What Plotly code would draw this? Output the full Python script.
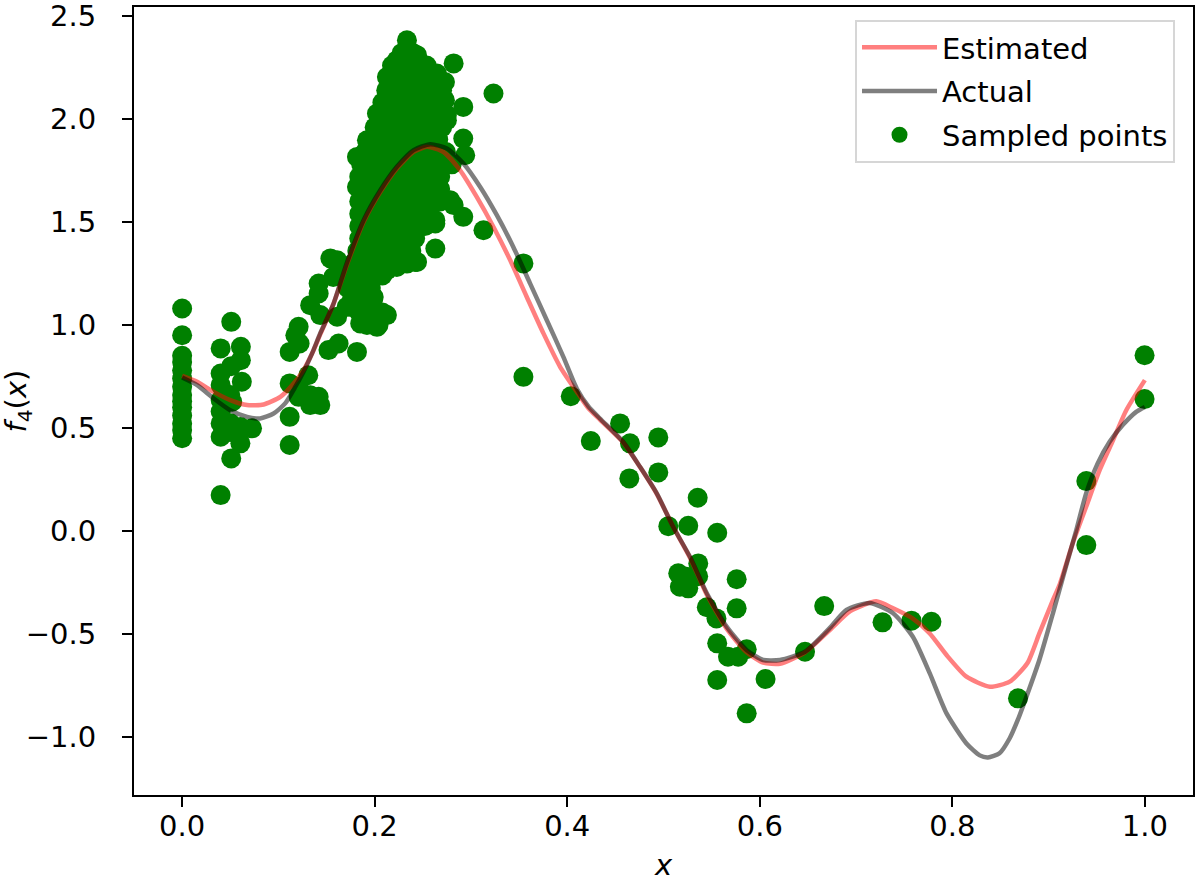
import plotly.graph_objects as go

# ---------------- data ----------------
# Actual function curve f4(x)
actual_x = [0.0, 0.0156, 0.0328, 0.050, 0.0675, 0.081, 0.095, 0.107, 0.1176, 0.126,
            0.135, 0.1435, 0.157, 0.171, 0.1885, 0.2058, 0.223, 0.2404, 0.2577, 0.275,
            0.2922, 0.3096, 0.3269, 0.344, 0.3615, 0.3788, 0.396, 0.41, 0.422, 0.434, 0.458,
            0.4756, 0.493, 0.51, 0.5275, 0.545, 0.5656, 0.5864, 0.6036, 0.621, 0.647,
            0.673, 0.690, 0.714, 0.7385, 0.759, 0.7766, 0.794, 0.8147, 0.8285, 0.837,
            0.849, 0.8596, 0.868, 0.877, 0.8904, 0.9045, 0.918, 0.9288, 0.939, 0.951,
            0.9634, 0.977, 0.991, 1.0]
actual_y = [0.745, 0.708, 0.643, 0.586, 0.554, 0.546, 0.570, 0.619, 0.700, 0.772,
            0.862, 0.960, 1.100, 1.300, 1.509, 1.654, 1.768, 1.849, 1.878, 1.857,
            1.784, 1.670, 1.533, 1.379, 1.201, 1.023, 0.845, 0.690, 0.605, 0.546, 0.433,
            0.311, 0.182, 0.020, -0.126, -0.303, -0.465, -0.579, -0.627, -0.627, -0.587,
            -0.470, -0.384, -0.350, -0.400, -0.514, -0.692, -0.886, -1.032, -1.090, -1.100,
            -1.080, -1.007, -0.918, -0.805, -0.627, -0.400, -0.174, 0.004, 0.182, 0.328,
            0.433, 0.514, 0.578, 0.602]

# Estimated curve
est_x = [0.0, 0.0156, 0.0328, 0.050, 0.0675, 0.0847, 0.102, 0.1158, 0.126, 0.1366,
         0.1435, 0.157, 0.171, 0.1885, 0.2058, 0.223, 0.2404, 0.2543, 0.2715, 0.2888,
         0.306, 0.3234, 0.3407, 0.358, 0.3753, 0.3926, 0.41, 0.422, 0.434, 0.458, 0.4756,
         0.493, 0.51, 0.5275, 0.545, 0.5656, 0.5864, 0.6036, 0.621, 0.647, 0.673,
         0.694, 0.721, 0.7385, 0.759, 0.7766, 0.794, 0.8147, 0.839, 0.8596, 0.8779,
         0.8904, 0.9045, 0.9115, 0.925, 0.939, 0.953, 0.967, 0.9807, 1.0]
est_y = [0.753, 0.724, 0.675, 0.635, 0.611, 0.614, 0.651, 0.716, 0.781, 0.878,
         0.955, 1.100, 1.290, 1.500, 1.645, 1.760, 1.840, 1.865, 1.840, 1.751,
         1.622, 1.476, 1.315, 1.136, 0.959, 0.797, 0.675, 0.595, 0.540, 0.430, 0.310,
         0.180, 0.020, -0.130, -0.310, -0.475, -0.590, -0.640, -0.645, -0.590, -0.480,
         -0.390, -0.342, -0.376, -0.426, -0.498, -0.603, -0.708, -0.757, -0.732, -0.643,
         -0.498, -0.336, -0.260, -0.061, 0.117, 0.295, 0.441, 0.586, 0.732]

# Sampled points (x, y)
samples = [
    # column at x = 0
    (0.0, 1.08), (0.0, 0.95), (0.0, 0.85), (0.0, 0.82), (0.0, 0.78), (0.0, 0.74),
    (0.0, 0.70), (0.0, 0.66), (0.0, 0.63), (0.0, 0.60), (0.0, 0.56), (0.0, 0.52),
    (0.0, 0.49), (0.0, 0.45),
    # x ~ 0.04 - 0.07
    (0.040, 0.886), (0.040, 0.764), (0.040, 0.708), (0.040, 0.635), (0.040, 0.58),
    (0.040, 0.522), (0.040, 0.457), (0.040, 0.174),
    (0.051, 1.015), (0.051, 0.80), (0.050, 0.66), (0.052, 0.627), (0.050, 0.523),
    (0.050, 0.48), (0.051, 0.352),
    (0.061, 0.894), (0.061, 0.829), (0.062, 0.724), (0.0605, 0.505), (0.0605, 0.425),
    (0.0726, 0.498),
    # x ~ 0.11 - 0.145
    (0.1117, 0.869), (0.121, 0.991), (0.1176, 0.95), (0.122, 0.91), (0.1117, 0.716),
    (0.1117, 0.554), (0.1117, 0.417), (0.131, 0.756), (0.121, 0.651), (0.133, 0.659),
    (0.1418, 0.651), (0.133, 0.611), (0.1435, 0.611), (0.121, 0.70),
    # x ~ 0.13 - 0.25, lower part of the cluster
    (0.133, 1.096), (0.1418, 1.153), (0.1435, 1.048), (0.152, 0.878), (0.1625, 0.910),
    (0.1816, 0.869), (0.2127, 1.048), (0.2024, 0.991), (0.185, 1.007), (0.171, 1.088),
    (0.161, 1.04), (0.154, 1.323), (0.1418, 1.201), (0.1677, 1.282), (0.157, 1.233),
    (0.161, 1.314), (0.199, 1.136), (0.188, 1.07), (0.1747, 1.088), (0.244, 1.306),
    (0.2335, 1.298), (0.223, 1.282), (0.2127, 1.266),
    # dense cluster
    (0.228, 2.32), (0.240, 2.32),
    (0.218, 2.26), (0.230, 2.26), (0.242, 2.26), (0.254, 2.26),
    (0.214, 2.20), (0.226, 2.20), (0.238, 2.20), (0.250, 2.20), (0.262, 2.20),
    (0.212, 2.14), (0.224, 2.14), (0.236, 2.14), (0.248, 2.14), (0.260, 2.14), (0.270, 2.14),
    (0.208, 2.08), (0.220, 2.08), (0.232, 2.08), (0.244, 2.08), (0.256, 2.08), (0.268, 2.08),
    (0.204, 2.02), (0.216, 2.02), (0.228, 2.02), (0.240, 2.02), (0.252, 2.02), (0.264, 2.02), (0.275, 2.02),
    (0.200, 1.96), (0.212, 1.96), (0.224, 1.96), (0.236, 1.96), (0.248, 1.96), (0.260, 1.96), (0.270, 1.96),
    (0.196, 1.90), (0.208, 1.90), (0.220, 1.90), (0.232, 1.90), (0.244, 1.90), (0.256, 1.90), (0.266, 1.90),
    (0.190, 1.84), (0.202, 1.84), (0.214, 1.84), (0.226, 1.84), (0.238, 1.84), (0.250, 1.84), (0.262, 1.84), (0.274, 1.84),
    (0.186, 1.78), (0.198, 1.78), (0.210, 1.78), (0.222, 1.78), (0.234, 1.78), (0.246, 1.78), (0.258, 1.78), (0.270, 1.78), (0.280, 1.78),
    (0.184, 1.72), (0.196, 1.72), (0.208, 1.72), (0.220, 1.72), (0.232, 1.72), (0.244, 1.72), (0.256, 1.72), (0.268, 1.72),
    (0.184, 1.66), (0.196, 1.66), (0.208, 1.66), (0.220, 1.66), (0.232, 1.66), (0.244, 1.66), (0.256, 1.66), (0.268, 1.66),
    (0.184, 1.60), (0.196, 1.60), (0.208, 1.60), (0.220, 1.60), (0.232, 1.60), (0.244, 1.60), (0.256, 1.60), (0.268, 1.60),
    (0.184, 1.54), (0.196, 1.54), (0.208, 1.54), (0.220, 1.54), (0.232, 1.54), (0.244, 1.54), (0.256, 1.54),
    (0.184, 1.48), (0.196, 1.48), (0.208, 1.48), (0.220, 1.48), (0.232, 1.48), (0.244, 1.48), (0.252, 1.48),
    (0.184, 1.42), (0.196, 1.42), (0.208, 1.42), (0.220, 1.42), (0.232, 1.42), (0.242, 1.42),
    (0.182, 1.36), (0.194, 1.36), (0.206, 1.36), (0.218, 1.36), (0.230, 1.36), (0.238, 1.36),
    (0.178, 1.30), (0.190, 1.30), (0.202, 1.30), (0.214, 1.30), (0.226, 1.30),
    (0.174, 1.24), (0.186, 1.24), (0.198, 1.24), (0.208, 1.24),
    (0.172, 1.18), (0.184, 1.18), (0.196, 1.18),
    (0.176, 1.12), (0.188, 1.12), (0.198, 1.12),
    (0.184, 1.06), (0.196, 1.06), (0.208, 1.06),
    (0.192, 1.00), (0.204, 1.00),
    # cluster outline / outliers
    (0.2335, 2.382), (0.244, 2.31), (0.223, 2.285), (0.2127, 2.204), (0.282, 2.27),
    (0.3234, 2.124), (0.292, 2.059), (0.273, 2.18), (0.2646, 2.221), (0.273, 2.091),
    (0.275, 1.994), (0.292, 1.905), (0.294, 1.824), (0.2024, 2.027), (0.192, 1.897),
    (0.1816, 1.816), (0.1816, 1.67), (0.2784, 1.606), (0.292, 1.525), (0.313, 1.460),
    (0.263, 1.509), (0.263, 1.371), (0.242, 1.306), (0.3545, 1.299), (0.282, 1.582),
    (0.263, 1.493),
    # middle section
    (0.3545, 0.748), (0.4037, 0.654), (0.4245, 0.436), (0.4549, 0.522), (0.4652, 0.425),
    (0.4946, 0.454), (0.4645, 0.255), (0.4946, 0.284), (0.5355, 0.161), (0.505, 0.023),
    (0.5257, 0.025), (0.5558, -0.009), (0.5361, -0.158), (0.5153, -0.206), (0.524, -0.223),
    (0.536, -0.22), (0.517, -0.271), (0.5257, -0.279), (0.576, -0.235), (0.545, -0.371),
    (0.555, -0.425), (0.576, -0.376), (0.5558, -0.546), (0.5864, -0.575), (0.567, -0.611),
    (0.5776, -0.611), (0.5558, -0.724), (0.606, -0.719), (0.5864, -0.886),
    # right section
    (0.647, -0.587), (0.6669, -0.365), (0.7275, -0.444), (0.7576, -0.436), (0.7783, -0.441),
    (0.8682, -0.813), (0.9392, 0.242), (0.9392, -0.069), (0.9997, 0.853), (0.9997, 0.640),
]
sample_x = [p[0] for p in samples]
sample_y = [p[1] for p in samples]

x_tick_vals = [0.0, 0.2, 0.4, 0.6, 0.8, 1.0]
x_tick_text = ["0.0", "0.2", "0.4", "0.6", "0.8", "1.0"]
y_tick_vals = [-1.0, -0.5, 0.0, 0.5, 1.0, 1.5, 2.0, 2.5]
y_tick_text = ["\u22121.0", "\u22120.5", "0.0", "0.5", "1.0", "1.5", "2.0", "2.5"]

# ---------------- figure ----------------
FONT = "DejaVu Sans"
FS = 29
W, H = 1196, 879
ML, MR, MT, MB = 133.5, 3, 7, 84
PW, PH = W - ML - MR, H - MT - MB

fig = go.Figure()
fig.add_trace(go.Scatter(
    x=sample_x, y=sample_y, mode="markers", name="Sampled points",
    marker=dict(color="#008000", size=20, line=dict(width=0)),
    legendrank=3, legendgroup="c",
))
fig.add_trace(go.Scatter(
    x=est_x, y=est_y, mode="lines", name="Estimated",
    line=dict(color="rgba(255,0,0,0.5)", width=4.5, shape="spline", smoothing=0.6),
    legendrank=1, legendgroup="a",
))
fig.add_trace(go.Scatter(
    x=actual_x, y=actual_y, mode="lines", name="Actual",
    line=dict(color="rgba(0,0,0,0.5)", width=4.5, shape="spline", smoothing=0.6),
    legendrank=2, legendgroup="b",
))

axis_common = dict(
    showgrid=False, zeroline=False, showline=True, linecolor="black", linewidth=2,
    mirror=True, ticks="outside", ticklen=10, tickwidth=2, tickcolor="black",
    tickfont=dict(family=FONT, size=FS, color="black"), automargin=False,
    ticklabeloverflow="allow",
)

fig.update_layout(
    width=W, height=H,
    margin=dict(l=ML, r=MR, t=MT, b=MB, autoexpand=False),
    paper_bgcolor="white", plot_bgcolor="white",
    xaxis=dict(range=[-0.05, 1.05], tickvals=x_tick_vals, ticktext=x_tick_text,
               ticklabelstandoff=-6, **axis_common),
    yaxis=dict(range=[-1.2825, 2.544], tickvals=y_tick_vals, ticktext=y_tick_text,
               ticklabelstandoff=20, **axis_common),
    legend=dict(x=(1175 - ML) / PW, y=(H - MB - 20) / PH, xanchor="right", yanchor="top",
                bgcolor="rgba(255,255,255,0.8)", bordercolor="#d6d6d6", borderwidth=2,
                font=dict(family=FONT, size=FS, color="black"), tracegroupgap=3,
                itemwidth=75),
    showlegend=True,
    annotations=[
        dict(text="<i>x</i>", xref="paper", yref="paper", x=0.5,
             y=(795 - 865) / PH, xanchor="center", yanchor="middle", showarrow=False,
             font=dict(family=FONT, size=FS, color="black")),
        dict(text="<i>f</i><sub>4</sub>(<i>x</i>)", xref="paper", yref="paper",
             x=(17 - ML) / PW, y=0.5, xanchor="center", yanchor="middle",
             textangle=-90, showarrow=False,
             font=dict(family=FONT, size=FS, color="black")),
    ],
)

fig.write_html("out.html", config={"displayModeBar": False},
               post_script="document.body.style.margin='0px';")
